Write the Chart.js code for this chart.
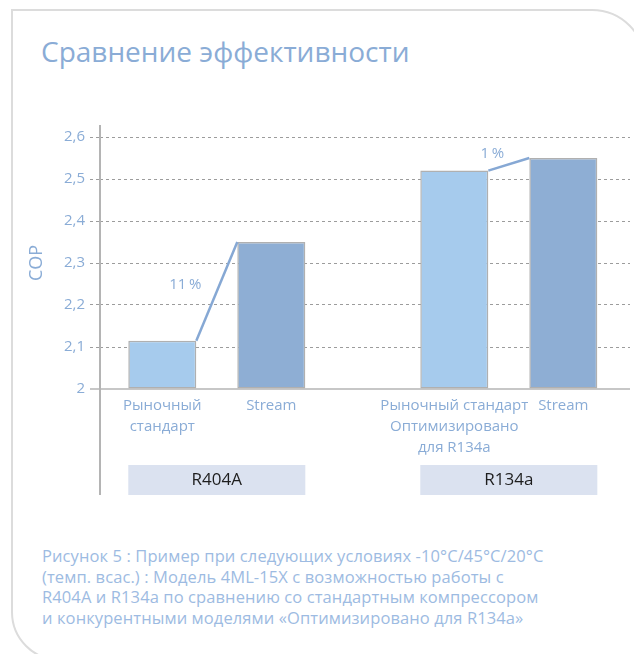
<!DOCTYPE html>
<html>
<head>
<meta charset="utf-8">
<script src="https://cdn.jsdelivr.net/npm/chart.js@4"></script>
<style>
  html, body { margin: 0; padding: 0; background: #fff; }
  body { width: 634px; height: 654px; position: relative; overflow: hidden; font-family: "Open Sans", sans-serif; }
  .frame {
    position: absolute; left: 11px; top: 9px; width: 631px; height: 648px;
    border: 2px solid #dcdcdc; border-radius: 0 54px 0 49px;
  }
  .title {
    position: absolute; left: 41px; top: 34px; font-size: 28px; line-height: 34px;
    color: #8aacd6; white-space: nowrap; letter-spacing: 0px;
  }
  .caption {
    position: absolute; left: 42px; top: 546px; font-size: 16.5px; line-height: 20.5px;
    color: #9dbbe2; white-space: nowrap; letter-spacing: 0.1px;
  }
  .chart-box { position: absolute; left: 0; top: 0; width: 634px; height: 654px; }
</style>
</head>
<body>
<div class="frame"></div>
<div class="title">Сравнение эффективности</div>
<div class="caption">
  Рисунок 5 : Пример при следующих условиях -10°C/45°C/20°C<br>
  (темп. всас.) : Модель 4ML-15X с возможностью работы с<br>
  R404A и R134a по сравнению со стандартным компрессором<br>
  и конкурентными моделями «Оптимизировано для R134a»
</div>
<div class="chart-box"><canvas id="myChart"></canvas></div>
<script>
// refrigerant groups and COP values
var groups = ['R404A', 'R134a'];
var marketValues = [2.115, 2.52];   // Рыночный стандарт / Оптимизировано
var streamValues = [2.35, 2.55];    // Stream
var gains = [11, 1];                // % improvement shown on the connector

// labels under each bar
var marketLabels = [['Рыночный', 'стандарт'], ['Рыночный стандарт', 'Оптимизировано', 'для R134a']];
var streamLabels = [['Stream'], ['Stream']];

// y axis ticks
var yMin = 2, yMax = 2.6, yStep = 0.1;

var blueText = '#8aacd6';
var labelOffsets = [[-11, -7], [4, -11]];

var element = document.getElementById('myChart').getContext('2d');

// draws axes lines, connectors, percentages, bar labels and the group boxes
var overlay = {
  id: 'overlay',
  afterDraw: function (chart) {
    var ctx = chart.ctx;
    var area = chart.chartArea;
    var m0 = chart.getDatasetMeta(0);
    var m1 = chart.getDatasetMeta(1);
    ctx.save();

    // axis lines
    ctx.strokeStyle = '#b4b4b4';
    ctx.lineWidth = 2;
    ctx.beginPath();
    ctx.moveTo(area.left, area.top - 12);
    ctx.lineTo(area.left, area.bottom + 106);
    ctx.stroke();
    ctx.lineWidth = 1.5;
    ctx.beginPath();
    ctx.moveTo(area.left - 10, area.bottom);
    ctx.lineTo(area.right, area.bottom);
    ctx.stroke();

    groups.forEach(function (g, i) {
      var a = m0.data[i], b = m1.data[i];
      var aLeft = a.x - a.width / 2, aRight = a.x + a.width / 2;
      var bLeft = b.x - b.width / 2, bRight = b.x + b.width / 2;

      // connector line
      ctx.strokeStyle = '#86a8d4';
      ctx.lineWidth = 2.5;
      ctx.beginPath();
      ctx.moveTo(aRight, a.y);
      ctx.lineTo(bLeft, b.y);
      ctx.stroke();

      // percent label
      ctx.fillStyle = blueText;
      ctx.font = '15px "Open Sans"';
      ctx.textAlign = 'center';
      ctx.textBaseline = 'middle';
      var midY = (a.y + b.y) / 2;
      ctx.fillText(gains[i] + '\u2009%', aRight + labelOffsets[i][0], midY + labelOffsets[i][1]);

      // labels under bars
      ctx.textBaseline = 'alphabetic';
      ctx.font = '15px "Open Sans"';
      marketLabels[i].forEach(function (t, k) {
        ctx.fillText(t, a.x, area.bottom + 21 + k * 21);
      });
      streamLabels[i].forEach(function (t, k) {
        ctx.fillText(t, b.x, area.bottom + 21 + k * 21);
      });

      // group box
      ctx.fillStyle = '#dbe2f0';
      ctx.fillRect(aLeft, area.bottom + 76, bRight - aLeft, 30);
      ctx.fillStyle = '#1e1e1e';
      ctx.font = '17px "Open Sans"';
      ctx.textBaseline = 'middle';
      ctx.fillText(g, (aLeft + bRight) / 2, area.bottom + 91);
    });
    ctx.restore();
  }
};

var chartData = {
  datasets: [{
    label: 'Рыночный стандарт',
    data: groups.map(function (g, i) { return { x: i, y: marketValues[i] }; }),
    backgroundColor: '#a6cbed',
    borderColor: '#b0b0b0',
    borderWidth: 1.5,
    borderSkipped: false,
    base: yMin
  }, {
    label: 'Stream',
    data: groups.map(function (g, i) { return { x: i, y: streamValues[i] }; }),
    backgroundColor: '#8eaed4',
    borderColor: '#b0b0b0',
    borderWidth: 1.5,
    borderSkipped: false,
    base: yMin
  }]
};

var chartOptions = {
  responsive: true,
  maintainAspectRatio: false,
  animation: false,
  categoryPercentage: 0.7466,
  barPercentage: 0.624,
  layout: { padding: { left: 0, top: 137, right: 4, bottom: 265 } },
  plugins: { legend: { display: false }, tooltip: { enabled: false } },
  scales: {
    x: {
      type: 'linear',
      offset: false,
      min: -0.40,
      max: 1.415,
      grid: { display: false, offset: false },
      border: { display: false },
      ticks: { display: false },
      afterBuildTicks: function (scale) {
        scale.ticks = groups.map(function (g, i) { return { value: i }; });
      },
      afterFit: function (scale) { scale.height = 0; }
    },
    y: {
      min: yMin,
      max: yMax,
      border: { display: false, dash: [3, 3] },
      grid: {
        color: function (c) { return c.tick && Math.abs(c.tick.value - yMin) < 1e-6 ? 'rgba(0,0,0,0)' : '#9c9c9c'; },
        tickLength: 10,
        tickBorderDash: [3, 3],
        lineWidth: 1
      },
      ticks: {
        stepSize: yStep,
        padding: 5,
        color: blueText,
        font: { family: 'Open Sans', size: 15 },
        callback: function (v) {
          var r = Math.round(v * 10) / 10;
          return r === 2 ? '2' : r.toFixed(1).replace('.', ',');
        }
      },
      title: {
        display: true,
        text: 'COP',
        color: blueText,
        font: { family: 'Open Sans', size: 18 },
        padding: { top: 26, bottom: 0 }
      },
      afterFit: function (scale) { scale.width = 100; }
    }
  }
};

var chart = new Chart(element, { type: 'bar', data: chartData, options: chartOptions, plugins: [overlay] });
</script>
</body>
</html>
